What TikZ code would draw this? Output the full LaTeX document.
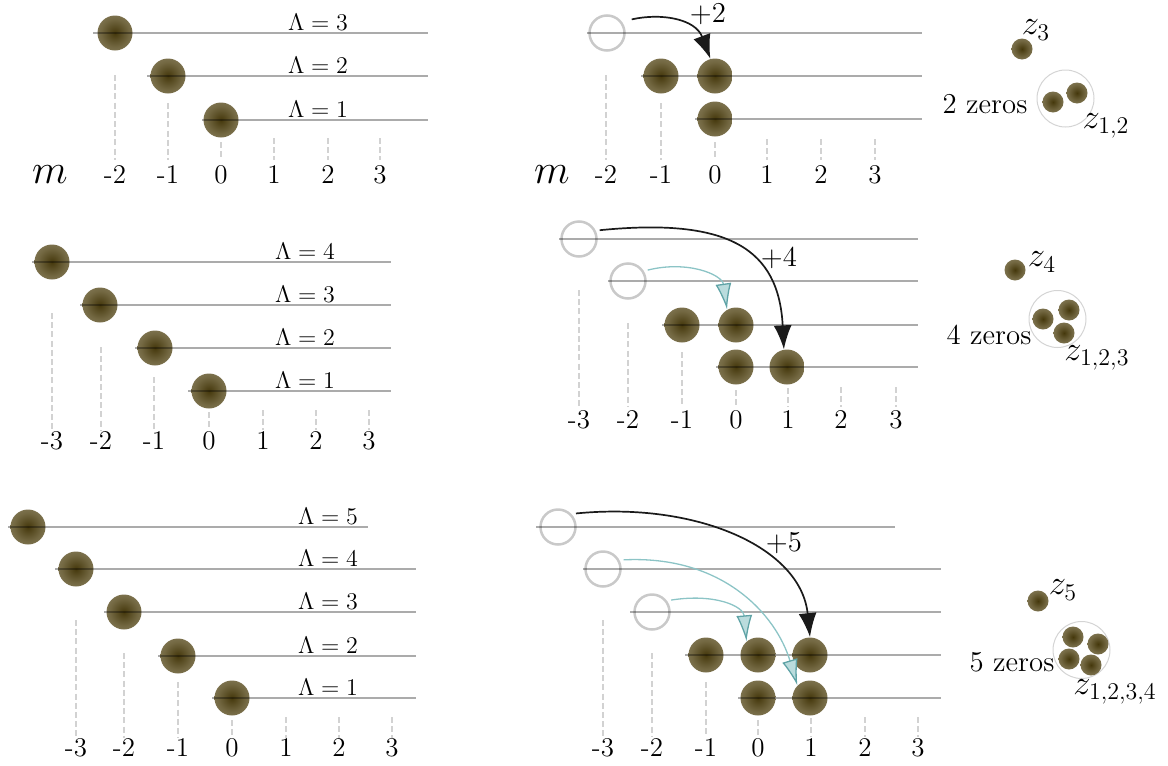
\documentclass[tikz,border=0pt]{standalone}
\usepackage{xcolor}
\usepackage{tikz}
\usetikzlibrary{arrows.meta,positioning}
\definecolor{BallCore}{HTML}{45380C}
\definecolor{BallMid}{HTML}{736842}
\definecolor{BallEdge}{HTML}{A19A7E}
\definecolor{TickGray}{HTML}{D2D2D2}
\definecolor{HollowGray}{HTML}{C9C9C9}
\definecolor{GroupGray}{HTML}{D4D4D4}
\definecolor{ShiftTeal}{HTML}{8CC4C6}
\definecolor{TealDark}{HTML}{5FA3A6}
\definecolor{Ink}{HTML}{1A1A1A}
\pgfdeclareradialshading{ballshade}{\pgfpointorigin}{color(0bp)=(BallCore); color(20bp)=(BallMid); color(50bp)=(BallEdge)}
\tikzset{
  every picture/.style={x=0.5pt, y=-0.5pt},
  ball/.style={circle, minimum size=17.5pt, inner sep=0pt, shade, shading=ballshade},
  zeroball/.style={ball, minimum size=10.5pt},
  hollow/.style={circle, draw=HollowGray, line width=1.25pt, minimum size=17.5pt, inner sep=0pt, outer sep=2.5pt},
  zerogroup/.style={circle, draw=GroupGray, line width=0.5pt, minimum size=28.5pt, inner sep=0pt},
  level/.style={draw=black, opacity=0.33, line width=0.85pt},
  tickline/.style={draw=TickGray, line width=0.6pt, dash pattern=on 3pt off 1.6pt},
  ticklab/.style={font=\fontsize{13.5}{16}\selectfont, inner sep=0pt},
  lamlab/.style={font=\fontsize{11.5}{14}\selectfont, above, inner sep=1.2pt},
  mlab/.style={font=\fontsize{20}{24}\selectfont, inner sep=0pt},
  jumparrow/.style={-{Latex[length=12pt, width=9pt]}, draw=Ink, line width=0.85pt},
  shiftarrow/.style={-{Latex[length=13pt, width=8pt, color=TealDark, fill=ShiftTeal!60]}, draw=ShiftTeal, line width=0.65pt},
  jumplab/.style={font=\Large, inner sep=0pt},
  zerolab/.style={font=\Large, inner sep=0pt},
  zlab/.style={font=\fontsize{17}{20}\selectfont, inner sep=0pt}
}

\begin{document}
\begin{tikzpicture}
  \useasboundingbox (0,0) rectangle (1168,766);

  % top row, ground state Lambda = 1..3
  \foreach \k/\x/\y/\s in {3/115/33/93, 2/168/76/147, 1/221/120/202} {
    \node[ball] (a\k) at (\x,\y) {};
    \draw[level] (\s,\y) -- (428,\y);
    \node[lamlab] (la\k) at (318,\y) {$\Lambda=\k$};
  }
  \foreach \m/\x/\t [count=\i] in {-2/115/75, -1/168/103, 0/221/142, 1/274/138, 2/328/138, 3/380/138} {
    \draw[tickline] (\x,\t) -- (\x,160);
    \node[ticklab] (ta\i) at (\x,175) {\m};
  }
  \node[mlab] (ma) at (50,175) {$m$};

  % top row, shifted
  \node[hollow] (b3) at (607,33) {};
  \node[ball] (b2a) at (661,76) {};
  \node[ball] (b2b) at (715,76) {};
  \node[ball] (b1) at (715,119) {};
  \draw[level] (587,33) -- (922,33);
  \draw[level] (641,76) -- (922,76);
  \draw[level] (695,119) -- (922,119);
  \foreach \m/\x/\t [count=\i] in {-2/606/75, -1/661/103, 0/715/142, 1/767/139, 2/821/139, 3/875/139} {
    \draw[tickline] (\x,\t) -- (\x,160);
    \node[ticklab] (tb\i) at (\x,175) {\m};
  }
  \node[mlab] (mb) at (552,175) {$m$};
  \draw[jumparrow, shorten <=3pt] (b3.33) .. controls +(35,-8) and +(-15,-40) .. (b2b.105);
  \node[jumplab] (jb) at (708,14) {$+2$};

  % top row, zeros
  \node[zeroball] (z3) at (1022,49) {};
  \node[zlab] (z3l) at (1036,30) {$z_3$};
  \node[zerogroup] (g3) at (1065.5,98.5) {};
  \node[zeroball] (z3a) at (1053,102) {};
  \node[zeroball] (z3b) at (1077,93) {};
  \node[zerolab] (n3) at (985,104) {2 zeros};
  \node[zlab] (z3s) at (1106,126) {$z_{1,2}$};

  % middle row, ground state Lambda = 1..4
  \foreach \k/\x/\y/\s in {4/52/262/32, 3/100/305/80, 2/155/348/135, 1/209/391/188} {
    \node[ball] (c\k) at (\x,\y) {};
    \draw[level] (\s,\y) -- (391,\y);
    \node[lamlab] (lc\k) at (305,\y) {$\Lambda=\k$};
  }
  \foreach \m/\x/\t [count=\i] in {-3/52/313, -2/101/347, -1/154/377, 0/209/412, 1/263/410, 2/316/410, 3/369/410} {
    \draw[tickline] (\x,\t) -- (\x,430);
    \node[ticklab] (tc\i) at (\x,441) {\m};
  }

  % middle row, shifted
  \node[hollow] (d4) at (579,239) {};
  \node[hollow] (d3) at (628,281) {};
  \node[ball] (d2a) at (682,325) {};
  \node[ball] (d2b) at (736,325) {};
  \node[ball] (d1a) at (736,367) {};
  \node[ball] (d1b) at (787,367) {};
  \draw[level] (559,239) -- (918,239);
  \draw[level] (608,281) -- (918,281);
  \draw[level] (662,325) -- (918,325);
  \draw[level] (716,367) -- (918,367);
  \foreach \m/\x/\t [count=\i] in {-3/579/290, -2/628/323, -1/682/352, 0/736/390, 1/788/388, 2/841/387, 3/896/387} {
    \draw[tickline] (\x,\t) -- (\x,407);
    \node[ticklab] (td\i) at (\x,420) {\m};
  }
  \draw[shiftarrow] (d3.29) .. controls +(40,-10) and +(-5,-35) .. (d2b.120);
  \draw[jumparrow] (d4.23) .. controls +(130,-13) and +(-5,-100) .. (d1b.100);
  \node[jumplab] (jd) at (779,258) {$+4$};

  % middle row, zeros
  \node[zeroball] (z4) at (1015,270) {};
  \node[zlab] (z4l) at (1042,262) {$z_4$};
  \node[zerogroup] (g4) at (1057.5,319) {};
  \node[zeroball] (z4a) at (1043,319) {};
  \node[zeroball] (z4b) at (1069,310) {};
  \node[zeroball] (z4c) at (1064,333) {};
  \node[zerolab] (n4) at (989,335) {4 zeros};
  \node[zlab] (z4s) at (1097,358) {$z_{1,2,3}$};

  % bottom row, ground state Lambda = 1..5
  \foreach \k/\x/\y/\s/\e in {5/28/527/8/368, 4/76/569/55/416, 3/124/612/104/416, 2/178/656/158/416, 1/232/698/212/416} {
    \node[ball] (e\k) at (\x,\y) {};
    \draw[level] (\s,\y) -- (\e,\y);
    \node[lamlab] (le\k) at (328,\y) {$\Lambda=\k$};
  }
  \foreach \m/\x/\t [count=\i] in {-3/76/620, -2/124/653, -1/178/682, 0/232/720, 1/286/717, 2/339/717, 3/392/717} {
    \draw[tickline] (\x,\t) -- (\x,738);
    \node[ticklab] (te\i) at (\x,748) {\m};
  }

  % bottom row, shifted
  \node[hollow] (f5) at (558,527) {};
  \node[hollow] (f4) at (603,569) {};
  \node[hollow] (f3) at (652,612) {};
  \node[ball] (f2a) at (706,655) {};
  \node[ball] (f2b) at (758,655) {};
  \node[ball] (f2c) at (810,655) {};
  \node[ball] (f1a) at (758,698) {};
  \node[ball] (f1b) at (810,698) {};
  \draw[level] (536,527) -- (895,527);
  \draw[level] (583,569) -- (941,569);
  \draw[level] (630,612) -- (941,612);
  \draw[level] (685,655) -- (941,655);
  \draw[level] (738,698) -- (941,698);
  \foreach \m/\x/\t [count=\i] in {-3/603/620, -2/652/653, -1/706/682, 0/758/720, 1/811/718, 2/865/717, 3/918/717} {
    \draw[tickline] (\x,\t) -- (\x,737);
    \node[ticklab] (tf\i) at (\x,748) {\m};
  }
  \draw[shiftarrow] (f3.32) .. controls +(44,-7) and +(-3,-35) .. (f2b.130);
  \draw[shiftarrow] (f4.24) .. controls +(100,-5) and +(-21,-70) .. (f1b.135);
  \draw[jumparrow] (f5.37) .. controls +(120,-12) and +(-9,-90) .. (f2c.north);
  \node[jumplab] (jf) at (784,543) {$+5$};

  % bottom row, zeros
  \node[zeroball] (z5) at (1038,601) {};
  \node[zlab] (z5l) at (1063,590) {$z_5$};
  \node[zerogroup] (g5) at (1081.5,650) {};
  \node[zeroball] (z5a) at (1073,637) {};
  \node[zeroball] (z5b) at (1098,644) {};
  \node[zeroball] (z5c) at (1069,659) {};
  \node[zeroball] (z5d) at (1091,665) {};
  \node[zerolab] (n5) at (1012,662) {5 zeros};
  \node[zlab] (z5s) at (1115,692) {$z_{1,2,3,4}$};
\end{tikzpicture}
\end{document}
